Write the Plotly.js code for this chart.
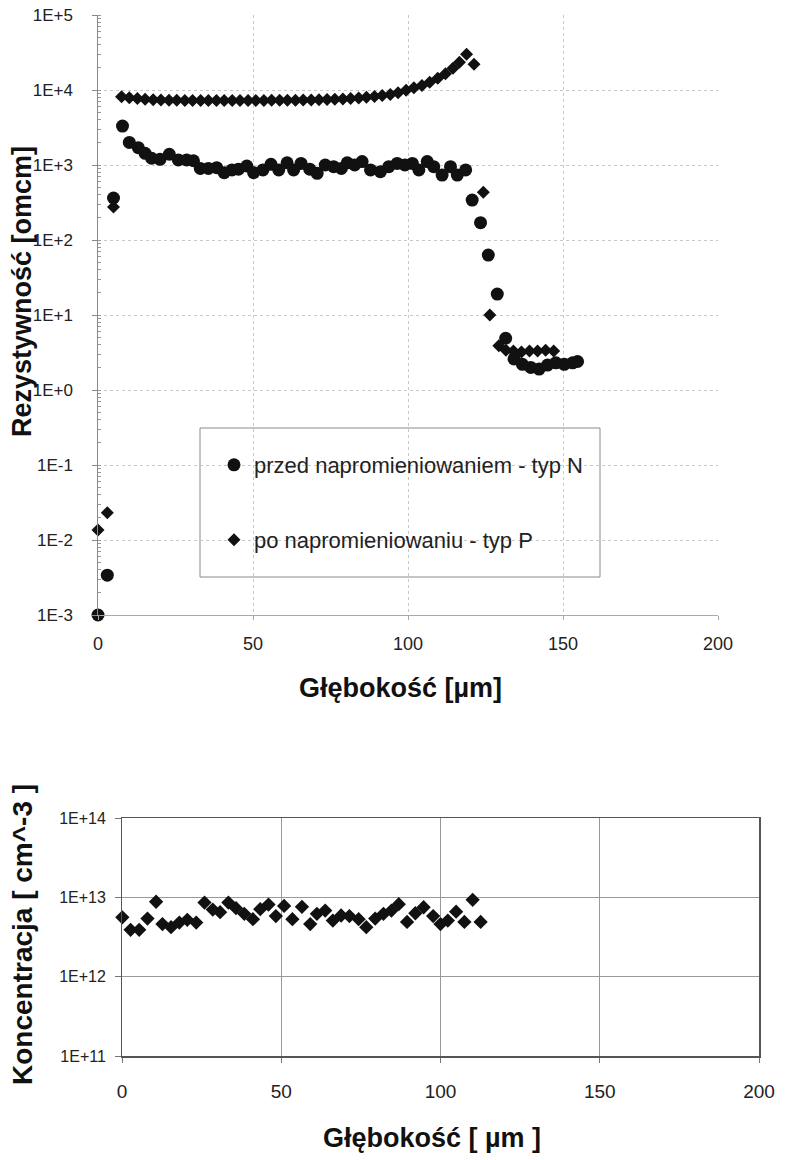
<!DOCTYPE html>
<html>
<head>
<meta charset="utf-8">
<script src="https://cdn.plot.ly/plotly-3.0.1.min.js"></script>
<style>html,body{margin:0;padding:0;background:#fff;}#chart{width:785px;height:1160px;}</style>
</head>
<body>
<div id="chart"></div>
<script>
// ---- data: top chart (resistivity vs depth) ----
const depthN = [0, 3, 5, 7.9, 10.1, 13.0, 15.2, 17.3, 20.0, 23.0, 25.9, 28.6, 30.8, 33.0, 35.6, 38.3, 40.7, 43.2, 45.3, 48.0, 50.2, 53.2, 55.8, 58.3, 61.0, 63.1, 65.5, 68.3, 70.7, 73.3, 76.0, 78.5, 80.4, 82.8, 85.2, 87.9, 91.1, 93.8, 96.5, 99.0, 101.4, 103.5, 106.2, 108.3, 111.0, 113.7, 115.9, 118.6, 120.7, 123.4, 125.9, 128.8, 131.5, 134.2, 136.9, 139.6, 142.3, 145.0, 147.7, 150.4, 153.1, 154.7];
const rhoN = [0.001, 0.0034, 363, 3300, 2000, 1700, 1430, 1230, 1190, 1390, 1170, 1170, 1140, 900, 900, 920, 790, 860, 880, 970, 790, 860, 1020, 860, 1070, 860, 1050, 880, 775, 1000, 950, 900, 1070, 1000, 1110, 860, 815, 950, 1050, 1000, 1050, 860, 1110, 950, 735, 950, 735, 860, 341, 170, 63, 19, 4.9, 2.6, 2.2, 2.0, 1.9, 2.15, 2.3, 2.2, 2.3, 2.4];

const depthP = [0, 3, 5, 7.6, 10.1, 12.7, 15.2, 17.8, 20.3, 22.9, 25.4, 28.0, 30.5, 33.1, 35.6, 38.2, 40.7, 43.3, 45.8, 48.4, 50.9, 53.5, 56.0, 58.6, 61.1, 63.7, 66.2, 68.8, 71.3, 73.9, 76.4, 79.0, 81.5, 84.1, 86.6, 89.2, 91.7, 94.3, 96.8, 99.4, 101.9, 104.5, 107.0, 109.6, 112.1, 114.5, 116.6, 118.9, 121.3, 124.3, 126.4, 129.3, 131.6, 134.0, 136.6, 139.2, 141.8, 144.4, 147.0];
const rhoP = [0.0136, 0.0231, 275, 8100, 7900, 7700, 7500, 7400, 7350, 7300, 7300, 7250, 7250, 7250, 7250, 7250, 7250, 7250, 7250, 7250, 7250, 7250, 7300, 7300, 7300, 7300, 7350, 7350, 7400, 7450, 7500, 7600, 7700, 7850, 8000, 8200, 8450, 8700, 9200, 9900, 10700, 11500, 12700, 14300, 16500, 19500, 23500, 30000, 22000, 433, 10, 3.9, 3.4, 3.3, 3.2, 3.3, 3.3, 3.4, 3.3];

// ---- data: bottom chart (concentration vs depth) ----
const depthC = [0.1, 2.7, 5.4, 8.0, 10.7, 12.7, 15.4, 18.0, 20.5, 23.3, 25.9, 28.5, 30.8, 33.4, 35.8, 38.4, 41.1, 43.4, 46.0, 48.3, 50.9, 53.5, 56.5, 59.1, 61.2, 63.8, 66.2, 68.8, 71.4, 74.3, 76.7, 79.5, 82.1, 84.6, 86.9, 89.5, 92.1, 94.7, 97.7, 100.0, 102.3, 104.9, 107.5, 110.1, 112.6];
const concC = [5.6e12, 3.9e12, 3.9e12, 5.4e12, 8.8e12, 4.6e12, 4.2e12, 4.8e12, 5.2e12, 4.8e12, 8.6e12, 7.0e12, 6.5e12, 8.6e12, 7.3e12, 6.2e12, 5.3e12, 7.1e12, 8.1e12, 5.8e12, 7.8e12, 5.3e12, 7.6e12, 4.6e12, 6.2e12, 6.8e12, 5.1e12, 5.9e12, 5.8e12, 5.3e12, 4.2e12, 5.4e12, 6.2e12, 6.8e12, 8.2e12, 4.9e12, 6.3e12, 7.5e12, 5.8e12, 4.6e12, 5.1e12, 6.6e12, 4.9e12, 9.3e12, 4.9e12];

// ---- tick labels ----
const xTicks = [0, 50, 100, 150, 200];
const xTickText = ['0', '50', '100', '150', '200'];
const yTopTicks = [1e-3, 1e-2, 1e-1, 1e0, 1e1, 1e2, 1e3, 1e4, 1e5];
const yTopText = ['1E-3', '1E-2', '1E-1', '1E+0', '1E+1', '1E+2', '1E+3', '1E+4', '1E+5'];
const yBotTicks = [1e11, 1e12, 1e13, 1e14];
const yBotText = ['1E+11', '1E+12', '1E+13', '1E+14'];

const legendN = 'przed napromieniowaniem - typ N';
const legendP = 'po napromieniowaniu - typ P';

const W = 785, H = 1160;
const px = v => v / W;
const py = v => 1 - v / H;
const FONT = 'Liberation Sans, Arial, sans-serif';
const INK = '#111';
const pad = (arr, n) => arr.map(t => t + '\u00a0'.repeat(n));

const traces = [
  {x: depthN, y: rhoN, type: 'scatter', mode: 'markers', name: legendN, xaxis: 'x', yaxis: 'y',
   marker: {symbol: 'circle', size: 13, color: INK}, cliponaxis: false, legend: 'legend'},
  {x: depthP, y: rhoP, type: 'scatter', mode: 'markers', name: legendP, xaxis: 'x', yaxis: 'y',
   marker: {symbol: 'diamond', size: 10, color: INK}, cliponaxis: false, legend: 'legend2'},
  {x: depthC, y: concC, type: 'scatter', mode: 'markers', name: 'koncentracja', xaxis: 'x2', yaxis: 'y2',
   marker: {symbol: 'diamond', size: 11, color: INK}, cliponaxis: false, showlegend: false}
];

const layout = {
  width: W, height: H,
  margin: {l: 0, r: 0, t: 0, b: 0},
  paper_bgcolor: '#fff', plot_bgcolor: '#fff',
  font: {family: FONT, color: '#222'},
  xaxis: {
    domain: [px(98), px(718)], anchor: 'y', range: [0, 200],
    tickvals: xTicks, ticktext: xTickText, tickfont: {family: FONT, size: 18, color: '#222'},
    showgrid: true, gridcolor: '#c8c8c8', griddash: 'dot', gridwidth: 1,
    showline: true, linecolor: '#aaa', linewidth: 1,
    ticks: 'outside', ticklen: 4, tickcolor: '#aaa', zeroline: false, automargin: false,
    ticklabelstandoff: 8
  },
  yaxis: {
    domain: [py(615), py(15)], anchor: 'x', type: 'log', range: [-3, 5],
    tickvals: yTopTicks, ticktext: pad(yTopText, 1), tickfont: {family: FONT, size: 17, color: '#222'},
    showgrid: true, gridcolor: '#c8c8c8', griddash: 'dot', gridwidth: 1,
    showline: true, linecolor: '#888', linewidth: 1,
    ticks: 'outside', ticklen: 5, tickcolor: '#888', zeroline: false, automargin: false,
    ticklabelstandoff: 11,
    minor: {ticks: 'inside', ticklen: 3, tickcolor: '#999', showgrid: false, dtick: 'D1'}
  },
  xaxis2: {
    domain: [px(122), px(759)], anchor: 'y2', range: [0, 200],
    tickvals: xTicks, ticktext: xTickText, tickfont: {family: FONT, size: 19, color: '#222'},
    showgrid: true, gridcolor: '#999', gridwidth: 1,
    showline: true, mirror: true, linecolor: '#555', linewidth: 1.5,
    ticks: 'outside', ticklen: 5, tickcolor: '#777', zeroline: false, automargin: false,
    ticklabelstandoff: 13
  },
  yaxis2: {
    domain: [py(1056), py(818)], anchor: 'x2', type: 'log', range: [11, 14],
    tickvals: yBotTicks, ticktext: pad(yBotText, 1), tickfont: {family: FONT, size: 16, color: '#222'},
    showgrid: true, gridcolor: '#999', gridwidth: 1,
    showline: true, mirror: true, linecolor: '#555', linewidth: 1.5,
    ticks: 'outside', ticklen: 6, tickcolor: '#777', zeroline: false, automargin: false,
    ticklabelstandoff: 1
  },
  legend: {
    x: px(214), y: py(465), xanchor: 'left', yanchor: 'middle',
    bgcolor: 'rgba(0,0,0,0)', borderwidth: 0,
    font: {family: FONT, size: 22, color: '#222'}
  },
  legend2: {
    x: px(214), y: py(540), xanchor: 'left', yanchor: 'middle',
    bgcolor: 'rgba(0,0,0,0)', borderwidth: 0,
    font: {family: FONT, size: 22, color: '#222'}
  },
  shapes: [
    {type: 'rect', xref: 'paper', yref: 'paper', x0: px(200), x1: px(600), y0: py(577), y1: py(428),
     line: {color: '#8a8a8a', width: 1}, fillcolor: 'rgba(0,0,0,0)', layer: 'below'}
  ],
  annotations: [
    {text: '<b>Głębokość [µm]</b>', xref: 'paper', yref: 'paper', x: px(400), y: py(688),
     xanchor: 'center', yanchor: 'middle', showarrow: false, font: {family: FONT, size: 27, color: '#111'}},
    {text: '<b>Rezystywność [omcm]</b>', xref: 'paper', yref: 'paper', x: px(22), y: py(292),
     xanchor: 'center', yanchor: 'middle', textangle: -90, showarrow: false, font: {family: FONT, size: 27, color: '#111'}},
    {text: '<b>Głębokość [ µm ]</b>', xref: 'paper', yref: 'paper', x: px(432), y: py(1138),
     xanchor: 'center', yanchor: 'middle', showarrow: false, font: {family: FONT, size: 27, color: '#111'}},
    {text: '<b>Koncentracja [ cm^-3 ]</b>', xref: 'paper', yref: 'paper', x: px(22), y: py(935),
     xanchor: 'center', yanchor: 'middle', textangle: -90, showarrow: false, font: {family: FONT, size: 28, color: '#111'}}
  ]
};

Plotly.newPlot('chart', traces, layout, {displayModeBar: false, staticPlot: true});
</script>
</body>
</html>
